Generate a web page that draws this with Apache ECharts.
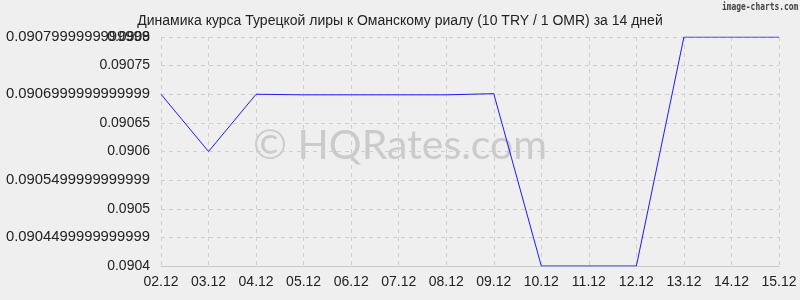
<!DOCTYPE html>
<html>
<head>
<meta charset="utf-8">
<script src="https://cdn.jsdelivr.net/npm/echarts@6/dist/echarts.min.js"></script>
<style>
html,body{margin:0;padding:0;background:#efefef;}
#c{width:800px;height:300px;}
</style>
</head>
<body>
<div id="c"></div>
<script>
const categories = ['02.12','03.12','04.12','05.12','06.12','07.12','08.12','09.12','10.12','11.12','12.12','13.12','14.12','15.12'];
const rates = [0.0907,0.0906,0.0907,0.090699,0.090699,0.090699,0.090699,0.090701,0.0904,0.0904,0.0904,0.0908,0.0908,0.0908];
const yTickLabels = ['0.0904','0.0904499999999999','0.0905','0.0905499999999999','0.0906','0.09065','0.0906999999999999','0.09075','0.0907999999999999'];
const yTopLabel = '0.0908';
const titleText = 'Динамика курса Турецкой лиры к Оманскому риалу (10 TRY / 1 OMR) за 14 дней';
const yMin = 0.0904, yMax = 0.0908, yStep = 0.00005;

const chart = echarts.init(document.getElementById('c'));
const font = 'Liberation Sans, Arial, sans-serif';
function idx(v){ return Math.round((v - yMin) / yStep); }
const labelStyle = {fontFamily: font, fontSize: 14, color: '#222'};
chart.setOption({
  backgroundColor: '#efefef',
  animation: false,
  title: {
    text: titleText, left: 'center', top: 9,
    textStyle: {fontFamily: font, fontSize: 14, fontWeight: 'normal', color: '#222'}
  },
  graphic: [
    {type:'text', position: [722, 2], scaleX: 0.72, z: 10, style:{text:'image-charts.com', fontFamily:'DejaVu Sans Mono, monospace', fontSize: 11, fontWeight: 'bold', fill:'#444'}},
    {type:'text', left: 'center', top: 125, z: 0, silent: true, style:{text:'© HQRates.com', fontFamily:'Lato, Open Sans, sans-serif', fontSize: 41, fill:'#cbcbcb'}}
  ],
  grid: {left: 161, right: 21, top: 37, bottom: 34},
  xAxis: {
    type: 'category', data: categories, boundaryGap: false,
    axisLine: {lineStyle: {color: '#c8c8c8'}},
    axisTick: {show: false},
    axisLabel: {fontFamily: font, fontSize: 14, color: '#222', margin: 9, interval: 0},
    splitLine: {show: true, lineStyle: {color: '#cfcfcf', type: [4,4]}}
  },
  yAxis: [{
    type: 'value', min: yMin, max: yMax, interval: yStep,
    axisLine: {show: false}, axisTick: {show: false},
    axisLabel: Object.assign({}, labelStyle, {margin: 11,
      formatter: v => {
        const s = yTickLabels[idx(v)] || '';
        return s.length > 10 ? '{l|' + s + '}' : s;
      },
      rich: {l: {fontFamily: font, fontSize: 14.8, color: '#222'}}}),
    splitLine: {show: true, lineStyle: {color: '#cfcfcf', type: [4,4]}}
  },{
    type: 'value', min: yMin, max: yMax, interval: yStep, position: 'left',
    axisLine: {show: false}, axisTick: {show: false},
    axisLabel: Object.assign({}, labelStyle, {margin: 11,
      formatter: v => idx(v) === yTickLabels.length - 1 ? yTopLabel : ''}),
    splitLine: {show: false}
  }],
  series: [{
    type: 'line', data: rates, symbol: 'none', z: 5,
    lineStyle: {color: '#1a1aff', width: 1}
  }]
});
</script>
</body>
</html>
